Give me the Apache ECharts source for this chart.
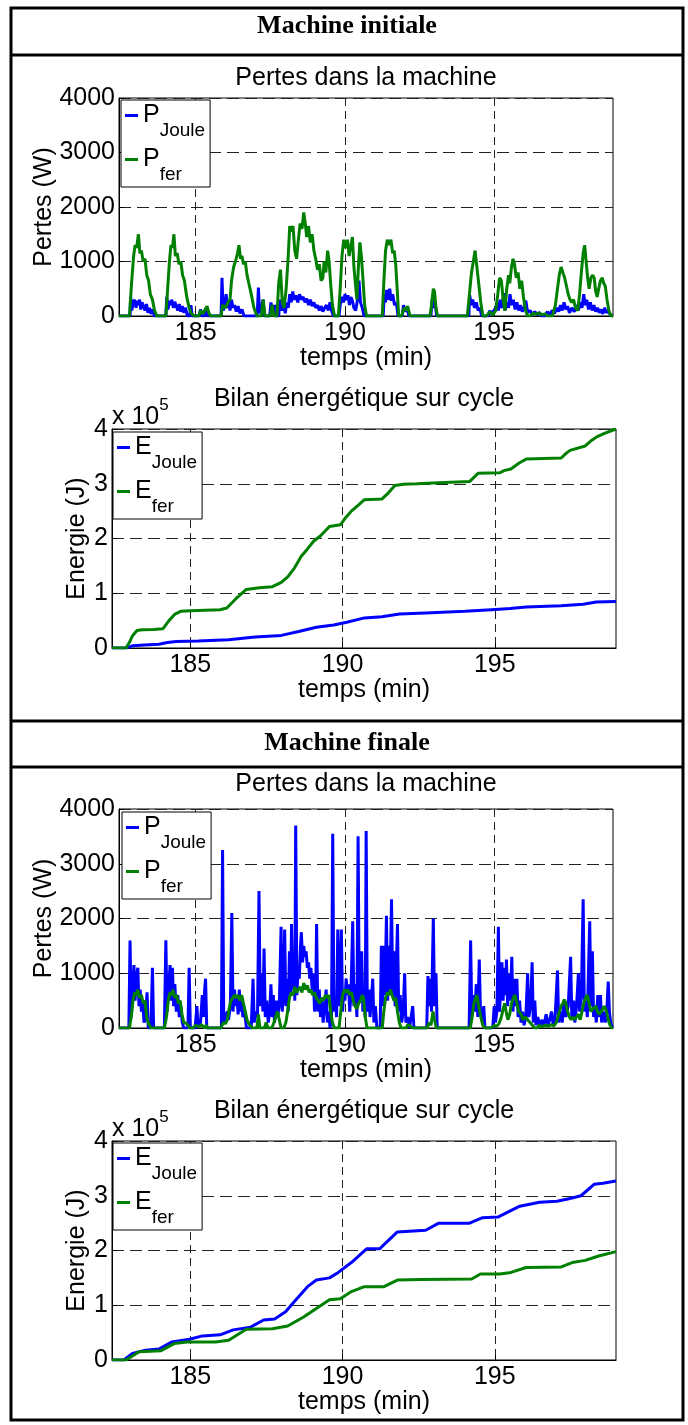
<!DOCTYPE html>
<html>
<head>
<meta charset="utf-8">
<script src="https://cdn.jsdelivr.net/npm/echarts@6/dist/echarts.min.js"></script>
<style>
  html, body { margin: 0; padding: 0; background: #fff; }
  #chart { width: 688px; height: 1425px; }
</style>
</head>
<body>
<div id="chart"></div>
<script>
// tick labels
const xTicks = [185, 190, 195];
const pertesTicks = [0, 1000, 2000, 3000, 4000];
const energieTicks = [0, 1, 2, 3, 4]; // x 10^5 J

// Machine initiale : pertes (W), [temps (min), valeur]
const pJouleInit = [
  [182.43,0],[182.8,0],[182.82,350],[182.86,100],[182.9,250],[182.95,300],[183.0,150],[183.04,280],[183.08,200],[183.12,300],[183.16,120],[183.2,250],[183.25,180],[183.3,100],[183.35,220],[183.4,60],[183.45,150],[183.5,40],[183.56,120],[183.62,0],
  [184.0,0],[184.03,350],[184.07,120],[184.12,280],[184.16,200],[184.2,300],[184.25,150],[184.3,260],[184.35,180],[184.4,100],[184.45,220],[184.5,80],[184.55,180],[184.6,60],[184.66,150],[184.72,0],[184.8,0],[184.84,200],[184.88,0],
  [185.12,0],[185.16,120],[185.22,0],[185.3,0],[185.35,150],[185.4,0],
  [185.85,0],[185.88,700],[185.92,100],[185.97,200],[186.02,400],[186.06,150],[186.1,250],[186.15,100],[186.2,300],[186.25,150],[186.3,200],[186.36,80],[186.42,180],[186.48,50],[186.55,120],[186.62,0],
  [187.06,0],[187.1,520],[187.14,50],[187.2,150],[187.26,300],[187.3,0],[187.48,0],[187.52,250],[187.58,50],[187.64,200],[187.7,0],
  [187.78,0],[187.82,300],[187.88,100],[187.95,200],[188.0,50],[188.05,250],[188.1,150],[188.15,400],[188.2,250],[188.25,450],[188.3,300],[188.36,380],[188.42,250],[188.48,400],[188.54,300],[188.6,350],[188.66,250],[188.72,320],[188.78,200],[188.84,300],[188.9,180],[188.96,250],[189.02,150],[189.08,200],[189.14,100],[189.2,180],[189.26,80],[189.32,150],[189.38,200],[189.44,100],[189.5,250],[189.56,80],[189.62,0],
  [189.8,0],[189.84,200],[189.9,350],[189.95,250],[190.0,400],[190.05,300],[190.1,380],[190.15,200],[190.2,350],[190.25,280],[190.3,150],[190.36,100],[190.42,300],[190.47,650],[190.52,250],[190.58,150],[190.64,0],
  [191.28,0],[191.32,400],[191.36,250],[191.4,480],[191.45,300],[191.5,500],[191.55,280],[191.6,400],[191.66,200],[191.72,250],[191.78,0],
  [191.92,0],[191.96,200],[192.02,80],[192.08,150],[192.14,0],
  [192.88,0],[192.92,300],[192.97,150],[193.02,250],[193.07,0],
  [194.15,0],[194.18,380],[194.23,200],[194.28,300],[194.34,150],[194.4,250],[194.46,100],[194.52,150],[194.58,0],
  [194.8,0],[194.85,100],[194.9,30],[195.05,150],[195.1,250],[195.14,100],[195.2,300],[195.26,150],[195.32,420],[195.36,100],[195.42,250],[195.48,150],[195.53,400],[195.58,200],[195.64,300],[195.7,120],[195.76,250],[195.82,100],[195.88,200],[195.94,80],[196.0,150],[196.06,280],[196.12,60],[196.2,100],[196.28,30],[196.36,80],[196.44,20],[196.52,60],[196.6,0],
  [196.7,0],[196.78,80],[196.86,30],[196.94,100],[197.02,50],[197.1,150],[197.16,80],[197.22,200],[197.28,100],[197.34,250],[197.4,120],[197.46,180],[197.52,60],[197.6,150],[197.68,80],[197.76,200],[197.82,100],[197.88,250],[197.94,150],[198.0,400],[198.05,200],[198.1,300],[198.16,120],[198.22,250],[198.28,100],[198.34,200],[198.4,80],[198.46,150],[198.52,60],[198.58,120],[198.64,40],[198.7,150],[198.76,60],[198.82,100],[198.88,30],[198.95,0],[198.98,0]
];

const pFerInit = [
  [182.43,0],[182.78,0],[182.85,600],[182.92,1100],[182.97,1300],[183.02,1250],[183.08,1500],[183.13,1150],[183.18,1200],[183.24,1000],[183.3,1050],[183.36,750],[183.42,650],[183.48,400],[183.55,300],[183.62,100],[183.7,0],
  [184.0,0],[184.06,500],[184.12,1000],[184.17,1300],[184.22,1250],[184.27,1500],[184.32,1100],[184.38,1150],[184.44,950],[184.5,1000],[184.56,750],[184.62,650],[184.7,350],[184.78,150],[184.85,50],[184.95,0],
  [185.1,0],[185.17,100],[185.24,40],[185.3,20],[185.38,180],[185.44,60],[185.5,0],
  [185.85,0],[185.9,200],[186.0,150],[186.08,250],[186.15,300],[186.2,650],[186.27,900],[186.33,1000],[186.4,1150],[186.45,1300],[186.5,1050],[186.55,1100],[186.6,950],[186.66,1000],[186.72,750],[186.8,550],[186.88,350],[186.95,150],[187.05,0],
  [187.2,0],[187.26,300],[187.32,0],[187.5,0],[187.56,200],[187.62,0],[187.72,0],[187.78,600],[187.84,850],[187.9,250],[187.96,150],[188.03,500],[188.1,1100],[188.15,1650],[188.2,1550],[188.26,1650],[188.32,1200],[188.38,1050],[188.44,1400],[188.5,1700],[188.56,1600],[188.62,1900],[188.67,1700],[188.72,1450],[188.78,1650],[188.84,1350],[188.9,1500],[188.96,1200],[189.02,1050],[189.08,850],[189.14,950],[189.2,650],[189.26,700],[189.3,1000],[189.36,800],[189.42,1200],[189.47,1000],[189.52,600],[189.58,200],[189.65,0],
  [189.78,0],[189.84,500],[189.9,1100],[189.96,1400],[190.02,1250],[190.08,1400],[190.14,1100],[190.2,1300],[190.25,1450],[190.3,900],[190.35,600],[190.4,300],[190.45,900],[190.5,1350],[190.55,1100],[190.6,700],[190.66,200],[190.72,0],
  [191.25,0],[191.3,600],[191.36,1200],[191.42,1400],[191.48,1300],[191.54,1400],[191.6,1150],[191.65,1200],[191.7,950],[191.75,500],[191.8,0],
  [191.9,0],[191.97,150],[192.03,100],[192.1,180],[192.18,0],
  [192.85,0],[192.9,200],[192.96,500],[193.0,450],[193.05,150],[193.1,0],
  [194.1,0],[194.17,400],[194.24,800],[194.3,1000],[194.36,1200],[194.42,900],[194.48,600],[194.55,250],[194.62,0],
  [194.75,0],[194.85,80],[194.95,20],[195.05,100],[195.12,400],[195.18,700],[195.24,650],[195.3,300],[195.36,100],[195.42,500],[195.48,750],[195.52,600],[195.58,900],[195.63,1050],[195.68,950],[195.74,700],[195.8,800],[195.86,500],[195.92,650],[195.98,350],[196.05,100],[196.12,0],
  [196.2,0],[196.3,50],[196.4,30],[196.5,60],[196.6,20],[196.7,40],[196.8,0],[196.95,0],
  [197.05,200],[197.12,500],[197.18,750],[197.24,900],[197.3,800],[197.36,700],[197.42,550],[197.48,400],[197.54,300],[197.6,250],[197.66,300],[197.72,150],[197.8,100],[197.86,400],[197.92,800],[197.98,1150],[198.03,1300],[198.08,1000],[198.13,700],[198.18,500],[198.24,700],[198.3,750],[198.35,700],[198.4,450],[198.45,350],[198.5,500],[198.56,650],[198.62,700],[198.67,600],[198.72,550],[198.78,300],[198.85,80],[198.92,0],[198.98,0]
];

// Machine initiale : énergie (x 10^5 J)
const eJouleInit = [
  [182.43,0],[182.89,0],[183.1,0.04],[183.5,0.055],[183.97,0.07],[184.25,0.1],[184.54,0.12],[185.26,0.13],[186.26,0.15],[187.13,0.2],[187.99,0.23],[188.56,0.3],[189.14,0.38],[189.71,0.42],[190.14,0.47],[190.72,0.55],[191.29,0.57],[191.87,0.62],[192.73,0.64],[194.02,0.67],[194.89,0.7],[195.5,0.72],[196.03,0.75],[197.18,0.77],[197.9,0.8],[198.33,0.84],[198.98,0.85]
];
const eFerInit = [
  [182.43,0],[182.89,0],[183.0,0.1],[183.1,0.22],[183.25,0.32],[183.42,0.335],[183.8,0.34],[184.1,0.35],[184.3,0.5],[184.5,0.62],[184.68,0.67],[185.0,0.68],[185.5,0.69],[185.98,0.7],[186.2,0.73],[186.5,0.9],[186.84,1.07],[187.27,1.1],[187.7,1.12],[187.99,1.2],[188.2,1.3],[188.42,1.46],[188.65,1.68],[188.85,1.81],[189.05,1.95],[189.28,2.05],[189.57,2.22],[189.93,2.25],[190.1,2.38],[190.29,2.5],[190.5,2.6],[190.72,2.71],[191.29,2.72],[191.5,2.83],[191.72,2.97],[192.0,2.99],[192.44,3.0],[193.16,3.02],[194.17,3.04],[194.45,3.19],[195.17,3.2],[195.3,3.24],[195.53,3.27],[195.8,3.38],[196.03,3.45],[196.6,3.46],[197.18,3.47],[197.35,3.56],[197.47,3.61],[197.97,3.69],[198.15,3.78],[198.33,3.85],[198.6,3.92],[198.98,4.0]
];

// Machine finale : pertes (W)
const pJouleFinal = [
  [182.43,0],[182.76,0],[182.8,1600],[182.84,200],[182.88,600],[182.93,1150],[182.97,500],[183.01,900],[183.06,1100],[183.1,400],[183.14,700],[183.18,300],[183.22,500],[183.27,100],[183.32,200],[183.37,650],[183.41,0],[183.5,0],[183.55,1100],[183.59,0],
  [183.95,0],[184.0,1600],[184.04,300],[184.09,700],[184.14,1150],[184.18,500],[184.22,1100],[184.26,400],[184.3,800],[184.35,300],[184.4,600],[184.45,200],[184.5,400],[184.55,100],[184.6,0],[184.74,0],[184.78,1100],[184.82,0],
  [184.98,0],[185.04,400],[185.08,0],[185.16,100],[185.22,600],[185.26,200],[185.3,700],[185.33,900],[185.37,0],
  [185.86,0],[185.9,3250],[185.94,100],[186.0,200],[186.06,300],[186.1,150],[186.16,400],[186.21,2100],[186.25,300],[186.3,700],[186.34,400],[186.38,600],[186.42,250],[186.46,700],[186.5,300],[186.54,500],[186.58,200],[186.64,300],[186.7,0],
  [186.86,0],[186.92,900],[186.96,100],[187.02,300],[187.07,200],[187.12,2500],[187.16,400],[187.21,1000],[187.25,300],[187.29,1450],[187.33,200],[187.38,500],[187.43,100],[187.48,300],[187.52,800],[187.56,200],[187.6,600],[187.64,100],[187.7,500],[187.74,200],[187.8,400],[187.86,1850],[187.9,300],[187.94,700],[187.98,1800],[188.02,400],[188.06,900],[188.1,300],[188.14,1400],[188.18,600],[188.21,1900],[188.25,700],[188.29,1000],[188.32,500],[188.35,3700],[188.39,600],[188.43,1100],[188.47,900],[188.51,1500],[188.54,1750],[188.58,1200],[188.62,1500],[188.66,1300],[188.7,1400],[188.74,1100],[188.78,1200],[188.82,900],[188.86,1100],[188.9,700],[188.94,1000],[188.98,300],[189.02,600],[189.05,1900],[189.09,300],[189.14,700],[189.18,200],[189.22,500],[189.27,100],[189.32,400],[189.37,700],[189.41,100],[189.46,300],[189.5,0],
  [189.55,200],[189.59,3550],[189.63,300],[189.68,500],[189.72,200],[189.76,1800],[189.8,400],[189.84,900],[189.88,1800],[189.92,300],[189.96,700],[190.0,500],[190.04,900],[190.08,600],[190.12,800],[190.16,300],[190.2,600],[190.26,1950],[190.3,400],[190.35,800],[190.4,200],[190.44,3500],[190.48,500],[190.52,900],[190.56,1400],[190.6,300],[190.64,600],[190.68,200],[190.71,3600],[190.75,300],[190.8,700],[190.84,200],[190.88,500],[190.93,900],[190.97,100],[191.02,400],[191.07,0],
  [191.18,0],[191.22,1500],[191.26,400],[191.3,1500],[191.34,600],[191.39,2050],[191.43,500],[191.47,1500],[191.51,700],[191.56,2350],[191.6,600],[191.64,1400],[191.68,400],[191.72,1100],[191.76,1900],[191.8,300],[191.85,600],[191.9,100],[191.95,300],[192.0,1000],[192.04,100],[192.1,200],[192.16,0],[192.22,0],[192.27,400],[192.31,0],
  [192.74,0],[192.78,950],[192.82,400],[192.86,900],[192.9,300],[192.96,2000],[193.0,400],[193.05,1000],[193.09,0],
  [194.16,0],[194.21,1600],[194.25,200],[194.3,600],[194.35,300],[194.4,800],[194.45,200],[194.5,1250],[194.54,300],[194.6,150],[194.65,400],[194.69,0],
  [194.95,0],[195.0,400],[195.04,100],[195.09,300],[195.14,1850],[195.18,300],[195.22,800],[195.26,1200],[195.3,500],[195.34,1100],[195.38,600],[195.41,1250],[195.45,400],[195.5,1000],[195.54,500],[195.59,1300],[195.63,300],[195.68,900],[195.72,400],[195.76,900],[195.8,200],[195.85,500],[195.9,100],[195.95,300],[196.0,50],[196.06,200],[196.12,1000],[196.16,200],[196.22,400],[196.27,1200],[196.31,100],[196.36,500],[196.4,50],[196.46,200],[196.52,50],[196.6,150],[196.66,30],[196.74,250],[196.8,50],[196.86,150],[196.92,300],[196.98,50],[197.04,200],[197.12,1050],[197.16,100],[197.22,300],[197.28,100],[197.34,500],[197.4,200],[197.48,400],[197.56,1300],[197.6,200],[197.66,500],[197.7,100],[197.76,400],[197.82,1000],[197.86,300],[197.92,600],[197.98,2350],[198.02,300],[198.08,500],[198.12,200],[198.2,1950],[198.24,400],[198.29,1400],[198.33,200],[198.38,400],[198.42,100],[198.47,600],[198.51,200],[198.56,600],[198.6,100],[198.66,300],[198.72,100],[198.78,400],[198.82,850],[198.86,300],[198.9,100],[198.96,0],[198.98,0]
];

const pFerFinal = [
  [182.43,0],[182.78,0],[182.84,200],[182.9,500],[182.96,650],[183.02,600],[183.06,700],[183.12,550],[183.18,600],[183.24,450],[183.3,500],[183.36,200],[183.42,80],[183.5,0],
  [183.95,0],[184.02,200],[184.08,500],[184.14,650],[184.2,600],[184.24,700],[184.3,550],[184.36,600],[184.42,450],[184.48,500],[184.54,250],[184.6,100],[184.7,80],[184.8,0],
  [184.9,0],[185.0,50],[185.1,20],[185.2,60],[185.3,0],[185.35,50],[185.4,0],
  [185.85,0],[185.92,100],[186.0,80],[186.06,150],[186.12,350],[186.18,500],[186.24,550],[186.3,600],[186.36,550],[186.42,600],[186.48,500],[186.54,600],[186.6,450],[186.66,300],[186.72,150],[186.8,60],[186.9,0],
  [187.05,0],[187.1,250],[187.15,0],[187.3,0],[187.36,100],[187.42,0],[187.55,0],[187.62,100],[187.68,200],[187.74,300],[187.8,150],[187.86,0],[187.95,0],[188.02,100],[188.08,300],[188.14,550],[188.2,650],[188.26,600],[188.32,750],[188.38,650],[188.44,700],[188.5,750],[188.56,650],[188.62,820],[188.68,700],[188.74,780],[188.8,650],[188.86,700],[188.92,600],[188.98,650],[189.04,550],[189.1,500],[189.16,450],[189.22,550],[189.28,500],[189.34,600],[189.4,550],[189.46,600],[189.52,300],[189.58,100],[189.65,0],
  [189.8,0],[189.86,300],[189.92,600],[189.98,700],[190.04,650],[190.1,700],[190.16,600],[190.22,650],[190.28,500],[190.34,400],[190.4,350],[190.46,450],[190.52,500],[190.58,600],[190.62,550],[190.68,200],[190.74,0],
  [191.25,0],[191.3,300],[191.36,550],[191.42,650],[191.48,600],[191.53,700],[191.58,600],[191.64,500],[191.7,550],[191.76,300],[191.82,100],[191.88,0],
  [192.05,0],[192.1,60],[192.18,40],[192.26,0],[192.75,0],[192.82,100],[192.88,50],[192.95,300],[193.0,150],[193.06,0],
  [194.2,0],[194.26,200],[194.32,450],[194.38,550],[194.42,600],[194.48,400],[194.55,200],[194.62,50],[194.7,0],
  [194.9,0],[195.0,50],[195.08,30],[195.16,80],[195.24,200],[195.3,350],[195.35,450],[195.4,300],[195.46,150],[195.52,250],[195.58,450],[195.64,550],[195.7,600],[195.76,450],[195.82,300],[195.9,250],[195.96,150],[196.04,200],[196.12,150],[196.2,100],[196.28,50],[196.36,0],
  [196.45,0],[196.5,50],[196.6,20],[196.7,50],[196.8,30],[196.9,60],[197.0,40],[197.08,100],[197.16,250],[197.24,400],[197.3,450],[197.35,520],[197.4,450],[197.46,300],[197.52,200],[197.58,150],[197.64,200],[197.7,150],[197.76,200],[197.82,250],[197.88,150],[197.94,300],[198.0,450],[198.06,550],[198.12,600],[198.18,450],[198.24,300],[198.3,350],[198.36,350],[198.41,400],[198.46,300],[198.52,250],[198.58,300],[198.64,350],[198.7,400],[198.76,300],[198.82,150],[198.88,50],[198.94,0],[198.98,0]
];

// Machine finale : énergie (x 10^5 J)
const eJouleFinal = [
  [182.43,0],[182.82,0],[183.1,0.12],[183.53,0.18],[183.97,0.2],[184.4,0.33],[184.97,0.38],[185.4,0.44],[185.98,0.46],[186.41,0.55],[186.98,0.6],[187.41,0.73],[187.77,0.75],[188.13,0.88],[188.42,1.07],[188.85,1.34],[189.14,1.46],[189.57,1.5],[189.86,1.6],[190.29,1.78],[190.79,2.03],[191.22,2.03],[191.44,2.15],[191.8,2.34],[192.73,2.37],[193.16,2.5],[194.17,2.5],[194.6,2.6],[195.1,2.61],[195.82,2.81],[196.47,2.88],[197.04,2.9],[197.47,2.95],[197.83,3.0],[198.26,3.21],[198.55,3.23],[198.98,3.27]
];
const eFerFinal = [
  [182.43,0],[182.89,0],[183.32,0.15],[184.04,0.17],[184.47,0.3],[184.9,0.33],[185.83,0.33],[186.26,0.36],[186.84,0.56],[187.7,0.57],[188.2,0.62],[188.71,0.78],[189.14,0.94],[189.57,1.1],[189.93,1.12],[190.29,1.25],[190.72,1.34],[191.36,1.34],[191.8,1.46],[192.59,1.47],[194.24,1.48],[194.53,1.57],[195.17,1.57],[195.53,1.6],[196.03,1.69],[197.18,1.7],[197.54,1.78],[197.97,1.82],[198.41,1.9],[198.98,1.98]
];

const FONT = "'Liberation Sans', Arial, Helvetica, sans-serif";
const SERIF = "'Liberation Serif', 'Times New Roman', serif";
const BLUE = '#0000ff';
const GREEN = '#008000';

const grids = [
  { left: 119, top: 98, width: 494, height: 218 },
  { left: 112, top: 429, width: 504, height: 219 },
  { left: 119, top: 809, width: 494, height: 219 },
  { left: 112, top: 1141, width: 504, height: 219 }
];

function xAxisFor(i) {
  return {
    type: 'value', gridIndex: i, min: 182.43, max: 198.98,
    name: 'temps (min)', nameLocation: 'middle', nameGap: 30, nameMoveOverlap: false,
    nameTextStyle: { fontSize: 25, color: '#000', fontFamily: FONT },
    axisLine: { show: true, onZero: false, lineStyle: { color: '#000', width: 1 } },
    axisTick: { show: true, inside: true, length: 5, customValues: xTicks, lineStyle: { color: '#000' } },
    axisLabel: { customValues: xTicks, fontSize: 25, color: '#000', margin: 5, fontFamily: FONT },
    splitLine: { show: true, lineStyle: { color: '#222', width: 1, type: [8, 5] } }
  };
}

function yAxisFor(i, ticks, name, nameGap) {
  return {
    type: 'value', gridIndex: i,
    min: ticks[0], max: ticks[ticks.length - 1], interval: ticks[1] - ticks[0],
    name: name, nameLocation: 'middle', nameGap: nameGap, nameMoveOverlap: false,
    nameTextStyle: { fontSize: 25, color: '#000', fontFamily: FONT },
    axisLine: { show: true, lineStyle: { color: '#000', width: 1 } },
    axisTick: { show: true, inside: true, length: 5, lineStyle: { color: '#000' } },
    axisLabel: { fontSize: 25, color: '#000', margin: 4, fontFamily: FONT, formatter: v => String(v) },
    splitLine: { show: true, lineStyle: { color: '#222', width: 1, type: [12, 6] } }
  };
}

function line(name, gi, data, color, width) {
  return {
    type: 'line', name: name, xAxisIndex: gi, yAxisIndex: gi, data: data,
    showSymbol: false, symbol: 'none', color: color,
    lineStyle: { color: color, width: width }, itemStyle: { color: color }
  };
}

function legendAt(left, top, names) {
  return {
    orient: 'vertical', left: left, top: top, data: names, selectedMode: false,
    icon: 'rect', itemWidth: 13, itemHeight: 3, itemGap: 7,
    padding: [3, 5, 3, 4], borderColor: '#000', borderWidth: 1, backgroundColor: '#fff',
    formatter: n => {
      const parts = n.split('_');
      return '{m|' + parts[0] + '}{s|' + parts[1] + '}';
    },
    textStyle: {
      color: '#000', fontFamily: FONT,
      rich: {
        m: { fontSize: 25, lineHeight: 25, verticalAlign: 'top', color: '#000', fontFamily: FONT },
        s: { fontSize: 19, lineHeight: 19, padding: [18, 0, 0, 0], verticalAlign: 'top', color: '#000', fontFamily: FONT }
      }
    }
  };
}

function centerTitle(text, cx, top, style) {
  return { text: text, left: cx, top: top, textAlign: 'center', padding: 0, textStyle: style };
}

const sansTitle = { fontSize: 25, fontWeight: 'normal', color: '#000', fontFamily: FONT };
const headTitle = { fontSize: 26, fontWeight: 'bold', color: '#000', fontFamily: SERIF };
const expStyle = {
  color: '#000', fontFamily: FONT, fontWeight: 'normal',
  rich: {
    a: { fontSize: 25, lineHeight: 25, padding: [8, 0, 0, 0], verticalAlign: 'top', color: '#000', fontFamily: FONT },
    b: { fontSize: 17, lineHeight: 17, verticalAlign: 'top', color: '#000', fontFamily: FONT }
  }
};

const chart = echarts.init(document.getElementById('chart'));
chart.setOption({
  animation: false,
  backgroundColor: '#fff',
  title: [
    centerTitle('Machine initiale', 347, 13, headTitle),
    centerTitle('Pertes dans la machine', 366, 66, sansTitle),
    centerTitle('Bilan énergétique sur cycle', 364, 387, sansTitle),
    { text: '{a|x 10}{b|5}', left: 112, top: 397, padding: 0, textStyle: expStyle },
    centerTitle('Machine finale', 347, 730, headTitle),
    centerTitle('Pertes dans la machine', 366, 772, sansTitle),
    centerTitle('Bilan énergétique sur cycle', 364, 1099, sansTitle),
    { text: '{a|x 10}{b|5}', left: 112, top: 1109, padding: 0, textStyle: expStyle }
  ],
  grid: grids.map(g => Object.assign({ show: true, borderColor: '#000', borderWidth: 1, backgroundColor: '#fff', outerBoundsMode: 'none' }, g)),
  xAxis: [0, 1, 2, 3].map(xAxisFor),
  yAxis: [
    yAxisFor(0, pertesTicks, 'Pertes (W)', 62),
    yAxisFor(1, energieTicks, 'Energie (J)', 22),
    yAxisFor(2, pertesTicks, 'Pertes (W)', 62),
    yAxisFor(3, energieTicks, 'Energie (J)', 22)
  ],
  legend: [
    legendAt(121, 100, ['P_Joule', 'P_fer']),
    legendAt(113, 432, ['E_Joule', 'E_fer']),
    legendAt(122, 812, ['P_Joule', 'P_fer']),
    legendAt(113, 1143, ['E_Joule', 'E_fer'])
  ],
  series: [
    line('P_Joule', 0, pJouleInit, BLUE, 3),
    line('P_fer', 0, pFerInit, GREEN, 3),
    line('E_Joule', 1, eJouleInit, BLUE, 3),
    line('E_fer', 1, eFerInit, GREEN, 3),
    line('P_Joule', 2, pJouleFinal, BLUE, 3),
    line('P_fer', 2, pFerFinal, GREEN, 3),
    line('E_Joule', 3, eJouleFinal, BLUE, 3),
    line('E_fer', 3, eFerFinal, GREEN, 3)
  ],
  // table frame around the four plots
  graphic: [
    { type: 'rect', silent: true, shape: { x: 11, y: 8, width: 672, height: 1412 }, style: { fill: 'none', stroke: '#000', lineWidth: 3 } },
    { type: 'line', silent: true, shape: { x1: 11, y1: 55, x2: 683, y2: 55 }, style: { stroke: '#000', lineWidth: 3 } },
    { type: 'line', silent: true, shape: { x1: 11, y1: 721, x2: 683, y2: 721 }, style: { stroke: '#000', lineWidth: 3 } },
    { type: 'line', silent: true, shape: { x1: 11, y1: 767, x2: 683, y2: 767 }, style: { stroke: '#000', lineWidth: 3 } }
  ]
});
</script>
</body>
</html>
